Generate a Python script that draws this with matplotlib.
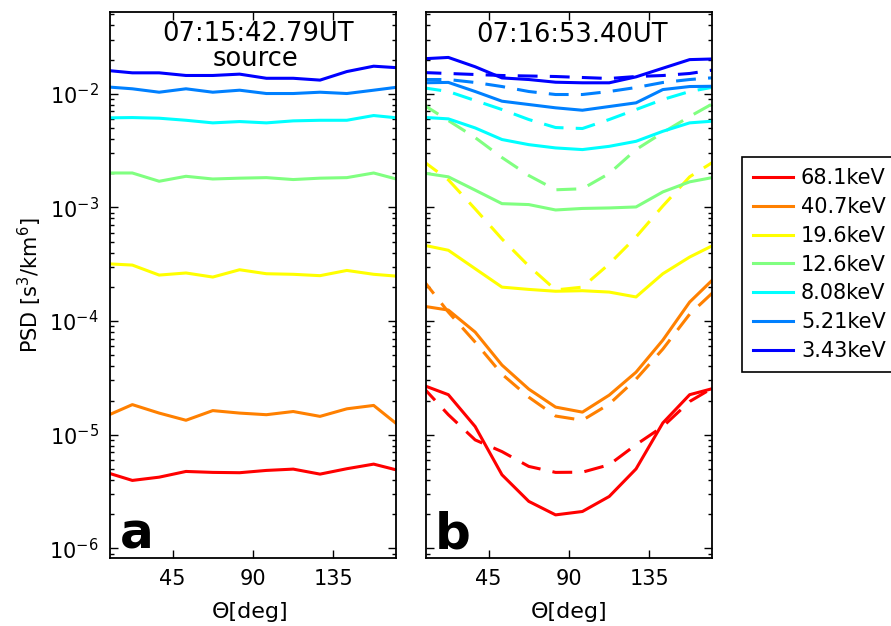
import matplotlib
matplotlib.use("Agg")
import matplotlib.pyplot as plt
from matplotlib.lines import Line2D
import numpy as np

plt.rcParams['font.family'] = ['DejaVu Sans']

# ---------------- data ----------------
theta = [7.5, 22.5, 37.5, 52.5, 67.5, 82.5, 97.5, 112.5, 127.5, 142.5, 157.5, 172.5]
energies = ["68.1keV", "40.7keV", "19.6keV", "12.6keV", "8.08keV", "5.21keV", "3.43keV"]
colors = ["#FF0000", "#FF8000", "#FFFF00", "#80FF80", "#00FFFF", "#0080FF", "#0000FF"]

# panel a (source, 07:15:42.79UT)
a_68 = [4.68e-6, 3.96e-6, 4.23e-6, 4.75e-6, 4.66e-6, 4.63e-6, 4.85e-6, 4.98e-6, 4.50e-6, 5.02e-6, 5.51e-6, 4.80e-6]
a_40 = [1.45e-5, 1.84e-5, 1.55e-5, 1.34e-5, 1.63e-5, 1.55e-5, 1.50e-5, 1.60e-5, 1.45e-5, 1.69e-5, 1.81e-5, 1.17e-5]
a_19 = [3.20e-4, 3.11e-4, 2.54e-4, 2.65e-4, 2.44e-4, 2.83e-4, 2.61e-4, 2.58e-4, 2.51e-4, 2.79e-4, 2.58e-4, 2.47e-4]
a_12 = [2.01e-3, 2.01e-3, 1.70e-3, 1.88e-3, 1.78e-3, 1.81e-3, 1.83e-3, 1.76e-3, 1.81e-3, 1.83e-3, 2.01e-3, 1.74e-3]
a_8 = [6.14e-3, 6.18e-3, 6.10e-3, 5.85e-3, 5.55e-3, 5.70e-3, 5.55e-3, 5.78e-3, 5.85e-3, 5.85e-3, 6.44e-3, 6.10e-3]
a_5 = [1.153e-2, 1.107e-2, 1.033e-2, 1.107e-2, 1.033e-2, 1.076e-2, 1.006e-2, 1.006e-2, 1.033e-2, 1.006e-2, 1.076e-2, 1.153e-2]
a_3 = [1.61e-2, 1.53e-2, 1.53e-2, 1.45e-2, 1.45e-2, 1.49e-2, 1.37e-2, 1.37e-2, 1.32e-2, 1.57e-2, 1.75e-2, 1.69e-2]

# panel b (07:16:53.40UT) solid
b_68 = [2.76e-5, 2.25e-5, 1.18e-5, 4.44e-6, 2.59e-6, 1.97e-6, 2.11e-6, 2.86e-6, 5.0e-6, 1.27e-5, 2.25e-5, 2.6e-5]
b_40 = [1.36e-4, 1.25e-4, 8.0e-5, 4.10e-5, 2.52e-5, 1.75e-5, 1.58e-5, 2.23e-5, 3.55e-5, 6.8e-5, 1.47e-4, 2.49e-4]
b_19 = [4.70e-4, 4.20e-4, 2.89e-4, 1.99e-4, 1.90e-4, 1.83e-4, 1.85e-4, 1.80e-4, 1.63e-4, 2.61e-4, 3.66e-4, 4.80e-4]
b_12 = [2.02e-3, 1.86e-3, 1.42e-3, 1.08e-3, 1.06e-3, 0.95e-3, 0.98e-3, 0.99e-3, 1.01e-3, 1.37e-3, 1.68e-3, 1.86e-3]
b_8 = [6.22e-3, 6.02e-3, 5.01e-3, 3.96e-3, 3.57e-3, 3.34e-3, 3.23e-3, 3.45e-3, 3.82e-3, 4.68e-3, 5.55e-3, 5.78e-3]
b_5 = [1.25e-2, 1.26e-2, 1.048e-2, 8.61e-3, 8.05e-3, 7.53e-3, 7.17e-3, 7.73e-3, 8.33e-3, 1.09e-2, 1.159e-2, 1.166e-2]
b_3 = [2.03e-2, 2.09e-2, 1.73e-2, 1.38e-2, 1.336e-2, 1.265e-2, 1.25e-2, 1.25e-2, 1.41e-2, 1.68e-2, 2.0e-2, 2.03e-2]

# panel b dashed
bd_68 = [2.7e-5, 1.50e-5, 9.0e-6, 7.1e-6, 5.26e-6, 4.66e-6, 4.68e-6, 5.44e-6, 8.17e-6, 1.18e-5, 1.96e-5, 2.7e-5]
bd_40 = [2.39e-4, 1.20e-4, 6.53e-5, 3.41e-5, 2.14e-5, 1.46e-5, 1.34e-5, 1.86e-5, 3.08e-5, 5.67e-5, 1.15e-4, 1.91e-4]
bd_19 = [2.62e-3, 1.75e-3, 9.70e-4, 5.28e-4, 3.05e-4, 1.88e-4, 1.99e-4, 3.18e-4, 5.50e-4, 1.03e-3, 1.86e-3, 2.62e-3]
bd_12 = [8.21e-3, 5.82e-3, 4.12e-3, 2.75e-3, 1.91e-3, 1.43e-3, 1.46e-3, 1.99e-3, 3.23e-3, 4.56e-3, 6.31e-3, 8.55e-3]
bd_8 = [1.136e-2, 1.048e-2, 8.73e-3, 7.27e-3, 5.94e-3, 5.05e-3, 4.95e-3, 5.94e-3, 7.27e-3, 8.91e-3, 1.048e-2, 1.159e-2]
bd_5 = [1.336e-2, 1.336e-2, 1.258e-2, 1.159e-2, 1.048e-2, 9.86e-3, 9.86e-3, 1.048e-2, 1.136e-2, 1.258e-2, 1.336e-2, 1.392e-2]
bd_3 = [1.541e-2, 1.510e-2, 1.479e-2, 1.449e-2, 1.435e-2, 1.420e-2, 1.392e-2, 1.364e-2, 1.420e-2, 1.449e-2, 1.510e-2, 1.637e-2]

panel_a = [a_68, a_40, a_19, a_12, a_8, a_5, a_3]
panel_b = [b_68, b_40, b_19, b_12, b_8, b_5, b_3]
panel_bd = [bd_68, bd_40, bd_19, bd_12, bd_8, bd_5, bd_3]

xticks = [45, 90, 135]
xlim = (10, 170)
ylim = (10 ** -6.085, 10 ** -1.28)

# ---------------- figure ----------------
W, H = 891, 626
fig = plt.figure(figsize=(W / 100, H / 100), dpi=100)

def fx(px):
    return px / W

def fy(py):
    return 1 - py / H

ax_a = fig.add_axes([fx(110), fy(558), fx(396) - fx(110), fy(12) - fy(558)])
ax_b = fig.add_axes([fx(426), fy(558), fx(712) - fx(426), fy(12) - fy(558)])

lw = 2.2
dash = (0, (6.5, 4.0))

for ax in (ax_a, ax_b):
    ax.set_yscale('log')
    ax.set_xlim(*xlim)
    ax.set_ylim(*ylim)
    ax.set_xticks(xticks)
    ax.set_xticklabels([str(t) for t in xticks])
    ax.tick_params(which='both', direction='in', top=True, right=True, labelsize=15, width=1.0)
    ax.tick_params(which='major', length=6, pad=8)
    ax.tick_params(which='minor', length=3)
    for s in ax.spines.values():
        s.set_linewidth(1.3)

for vals, c in zip(panel_a, colors):
    ax_a.plot(theta, vals, color=c, lw=lw, solid_joinstyle='round')

for vals, c in zip(panel_bd, colors):
    ax_b.plot(theta, vals, color=c, lw=lw, linestyle=dash)
for vals, c in zip(panel_b, colors):
    ax_b.plot(theta, vals, color=c, lw=lw, solid_joinstyle='round')

ax_b.tick_params(axis='y', which='both', labelleft=False)

# titles inside axes
ax_a.text(0.516, 0.960, "07:15:42.79UT", transform=ax_a.transAxes, ha='center', va='center', fontsize=18.5)
ax_a.text(0.507, 0.914, "source", transform=ax_a.transAxes, ha='center', va='center', fontsize=18.5)
ax_b.text(0.511, 0.958, "07:16:53.40UT", transform=ax_b.transAxes, ha='center', va='center', fontsize=18.5)

# panel letters
ax_a.text(0.035, 0.018, "a", transform=ax_a.transAxes, ha='left', va='baseline', fontsize=36, fontweight='bold')
ax_b.text(0.030, 0.018, "b", transform=ax_b.transAxes, ha='left', va='baseline', fontsize=36, fontweight='bold')

# axis labels
fig.text(fx(250), fy(612), "\u0398[deg]", ha='center', va='center', fontsize=16)
fig.text(fx(569), fy(612), "\u0398[deg]", ha='center', va='center', fontsize=16)
fig.text(fx(30), fy(285), r"PSD [s$^3$/km$^6$]", ha='center', va='center', rotation=90, fontsize=15)

# legend
handles = [Line2D([0], [0], color=c, lw=lw) for c in colors]
leg = fig.legend(handles, energies, loc='upper left', bbox_to_anchor=(fx(742), fy(157)),
                 bbox_transform=fig.transFigure, fontsize=15, frameon=True, fancybox=False,
                 edgecolor='black', framealpha=1, borderaxespad=0, borderpad=0.55,
                 labelspacing=0.42, handlelength=1.9, handletextpad=0.38)
leg.get_frame().set_linewidth(1.2)

fig.savefig("out.png", dpi=100)
